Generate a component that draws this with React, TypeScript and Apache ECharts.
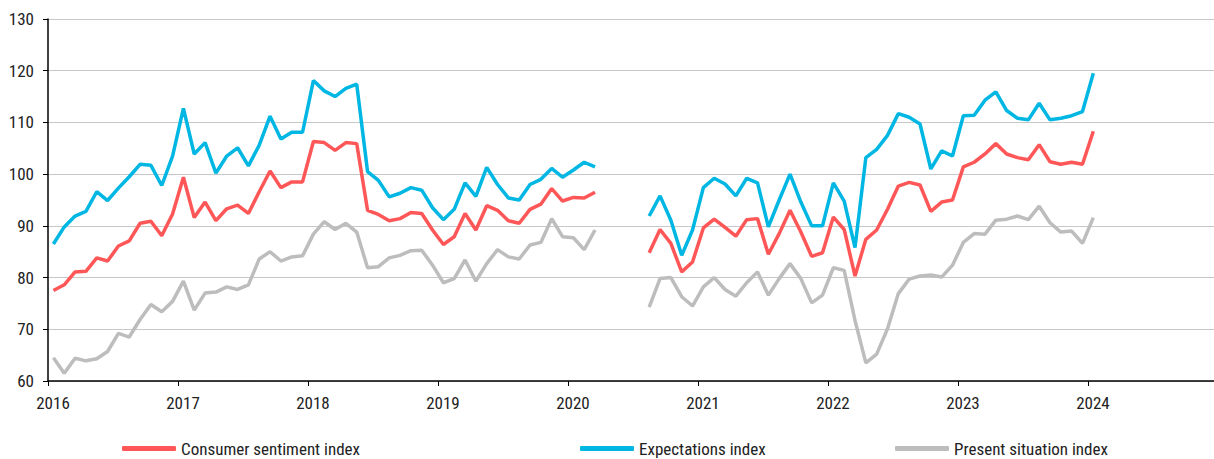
import React, { useEffect, useRef } from "react";
import * as echarts from "echarts";

const START_YEAR = 2016;
const N = null;

const consumerSentiment = [
  77.5, 78.6, 81.1, 81.2, 83.8, 83.2, 86.1, 87.1, 90.5, 90.9, 88.1, 92.3,
  99.4, 91.6, 94.6, 91.0, 93.3, 94.0, 92.4, 96.6, 100.6, 97.4, 98.5, 98.5,
  106.3, 106.1, 104.6, 106.1, 105.9, 93.0, 92.2, 91.0, 91.4, 92.6, 92.4, 89.2,
  86.4, 87.9, 92.4, 89.2, 93.9, 93.0, 91.0, 90.5, 93.2, 94.2, 97.2, 94.8,
  95.5, 95.4, 96.5, N, N, N, N, 84.8, 89.3, 86.6, 81.1, 83.0,
  89.6, 91.3, 89.7, 88.0, 91.2, 91.4, 84.5, 88.5, 93.0, 88.8, 84.1, 84.8,
  91.7, 89.3, 80.3, 87.4, 89.2, 93.2, 97.7, 98.4, 97.9, 92.8, 94.6, 95.0,
  101.4, 102.3, 103.9, 105.9, 103.9, 103.2, 102.8, 105.7, 102.4, 101.9, 102.3, 101.9,
  108.3,
];

const expectations = [
  86.5, 89.8, 91.9, 92.8, 96.6, 94.9, 97.3, 99.5, 101.9, 101.7, 97.8, 103.5,
  112.7, 103.9, 106.1, 100.2, 103.5, 105.1, 101.6, 105.6, 111.2, 106.8, 108.1, 108.1,
  118.1, 116.1, 115.0, 116.6, 117.4, 100.5, 98.8, 95.6, 96.3, 97.4, 96.9, 93.5,
  91.2, 93.2, 98.3, 95.7, 101.3, 98.0, 95.4, 95.0, 98.0, 99.0, 101.1, 99.4,
  100.8, 102.3, 101.4, N, N, N, N, 91.9, 95.8, 91.1, 84.3, 89.2,
  97.4, 99.2, 98.1, 95.8, 99.2, 98.3, 89.8, 95.0, 100.0, 94.6, 90.0, 90.0,
  98.3, 94.8, 85.8, 103.2, 104.8, 107.5, 111.7, 111.0, 109.7, 101.0, 104.5, 103.5,
  111.3, 111.4, 114.3, 115.9, 112.3, 110.8, 110.5, 113.7, 110.5, 110.8, 111.3, 112.1,
  119.5,
];

const presentSituation = [
  64.5, 61.5, 64.4, 63.9, 64.3, 65.7, 69.2, 68.5, 71.9, 74.8, 73.4, 75.4,
  79.3, 73.7, 77.0, 77.2, 78.2, 77.7, 78.6, 83.6, 85.0, 83.2, 84.0, 84.2,
  88.4, 90.8, 89.3, 90.5, 88.8, 81.9, 82.1, 83.8, 84.3, 85.2, 85.3, 82.4,
  79.0, 79.8, 83.4, 79.3, 82.7, 85.4, 84.0, 83.6, 86.3, 86.8, 91.4, 87.9,
  87.7, 85.4, 89.2, N, N, N, N, 74.3, 79.8, 80.0, 76.3, 74.5,
  78.2, 80.0, 77.7, 76.4, 79.0, 81.1, 76.6, 79.8, 82.7, 79.8, 75.1, 76.6,
  81.9, 81.4, 71.7, 63.5, 65.2, 70.1, 76.9, 79.7, 80.3, 80.5, 80.1, 82.4,
  86.8, 88.5, 88.4, 91.1, 91.3, 91.9, 91.2, 93.8, 90.6, 88.8, 89.0, 86.6,
  91.6,
];

const seriesNames = ["Consumer sentiment index", "Expectations index", "Present situation index"];
const seriesColors = ["#FF5757", "#00B7E4", "#BDBDBD"];

// month index -> fractional year (mid-month)
const toPairs = (vals: (number | null)[]) =>
  vals.map((v, i) => [START_YEAR + (i + 0.5) / 12, v === null ? "-" : v]);

const FONT = "'Liberation Sans Narrow', 'Roboto Condensed', 'Arial Narrow', Roboto, sans-serif";

export default function App() {
  const ref = useRef<HTMLDivElement>(null);
  useEffect(() => {
    if (!ref.current) return;
    const chart = echarts.init(ref.current, undefined, { renderer: "svg" });
    const allData = [consumerSentiment, expectations, presentSituation];
    const legendLefts = [122, 580, 895];
    chart.setOption({
      animation: false,
      grid: {
        left: 48,
        right: 0,
        top: 19,
        bottom: 78,
        containLabel: false,
        outerBoundsMode: "none",
      },
      legend: seriesNames.map((name, i) => ({
        data: [name],
        left: legendLefts[i],
        top: 440,
        padding: 0,
        icon: "roundRect",
        itemWidth: 54,
        itemHeight: 5,
        itemGap: 5,
        textStyle: { fontFamily: FONT, fontSize: 17, color: "#222" },
      })),
      xAxis: {
        type: "value",
        min: 2016,
        max: 2024.97,
        interval: 1,
        axisLine: { show: true, lineStyle: { color: "#000", width: 1.5 } },
        axisTick: { show: true, length: 5, lineStyle: { color: "#000" } },
        splitLine: { show: false },
        axisLabel: {
          fontFamily: FONT,
          fontSize: 17,
          color: "#222",
          margin: 13,
          showMaxLabel: false,
          padding: [0, 0, 0, 10],
          formatter: (v: number) => String(Math.round(v)),
        },
      },
      yAxis: {
        type: "value",
        min: 60,
        max: 130,
        interval: 10,
        axisLine: { show: true, lineStyle: { color: "#000", width: 1.5 } },
        axisTick: { show: true, length: 5, lineStyle: { color: "#000" } },
        splitLine: { show: true, lineStyle: { color: "#C8C8C8", width: 1 } },
        axisLabel: { fontFamily: FONT, fontSize: 17, color: "#222", margin: 14 },
      },
      series: seriesNames.map((name, i) => ({
        name,
        type: "line",
        data: toPairs(allData[i]),
        showSymbol: false,
        symbol: "none",
        connectNulls: false,
        color: seriesColors[i],
        lineStyle: { color: seriesColors[i], width: 3.5 },
        z: 3 - i,
      })),
    });
    return () => chart.dispose();
  }, []);
  return (
    <div
      ref={ref}
      style={{ position: "absolute", left: 0, top: 0, width: 1214, height: 459 }}
    />
  );
}
